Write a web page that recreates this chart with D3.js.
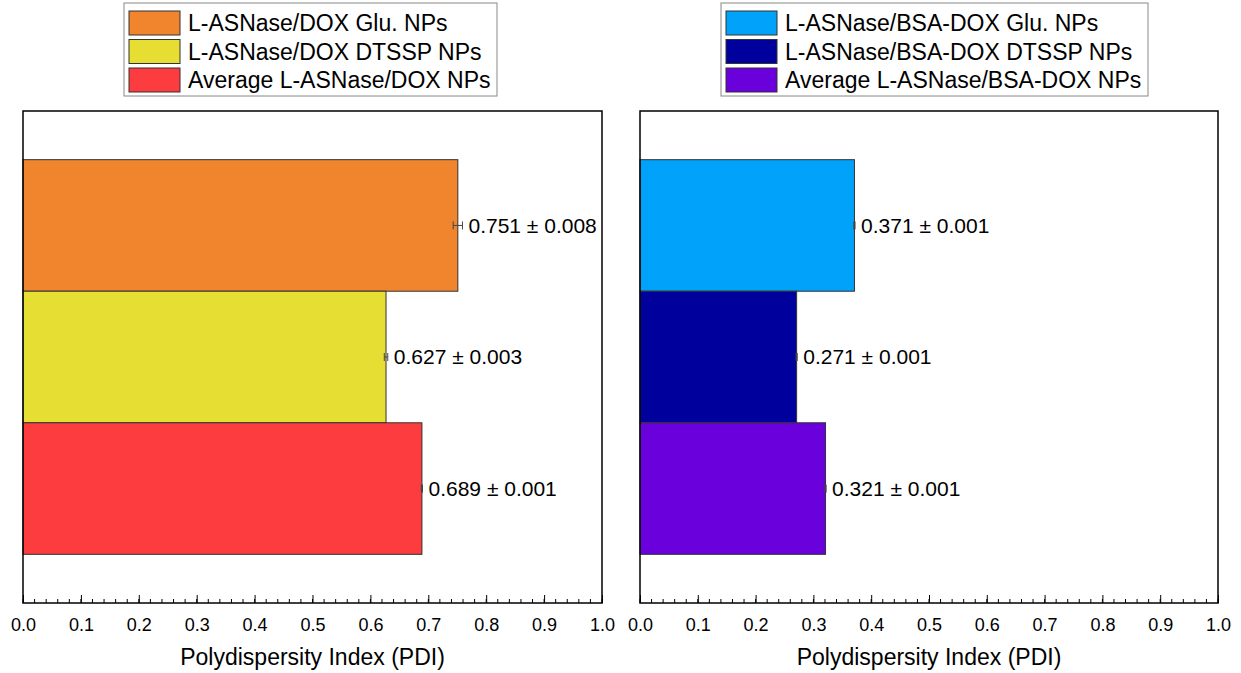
<!DOCTYPE html>
<html>
<head>
<meta charset="utf-8">
<script src="https://cdn.jsdelivr.net/npm/d3@7"></script>
<style>
  body { margin: 0; background: #fff; }
  svg { font-family: "Liberation Sans", Arial, sans-serif; }
</style>
</head>
<body>
<script>
// data
var namesLeft = ["L-ASNase/DOX Glu. NPs", "L-ASNase/DOX DTSSP NPs", "Average L-ASNase/DOX NPs"];
var pdiLeft = [0.751, 0.627, 0.689];
var errLeft = [0.008, 0.003, 0.001];
var colorsLeft = ["#F0852D", "#E6DE33", "#FC3C3E"];

var namesRight = ["L-ASNase/BSA-DOX Glu. NPs", "L-ASNase/BSA-DOX DTSSP NPs", "Average L-ASNase/BSA-DOX NPs"];
var pdiRight = [0.371, 0.271, 0.321];
var errRight = [0.001, 0.001, 0.001];
var colorsRight = ["#00A2FA", "#00009C", "#6A00DC"];

var X_DOMAIN = [0, 1.0];
var MAJOR_STEP = 0.1;
var MINOR_STEP = 0.02;
var AXIS_TITLE = "Polydispersity Index (PDI)";

var W = 1241, H = 673;

var svg = d3.select("body").append("svg")
    .attr("width", W)
    .attr("height", H);

function drawPanel(opts) {
    var g = svg.append("g");
    var x = d3.scaleLinear().domain(X_DOMAIN).range([opts.left, opts.right]);
    var y = d3.scaleBand().domain(d3.range(opts.names.length))
        .range([opts.top, opts.bottom])
        .paddingInner(0)
        .paddingOuter(0.37);

    var rows = opts.names.map(function(n, i) {
        return { name: n, v: opts.values[i], e: opts.errs[i], c: opts.colors[i], i: i };
    });

    // bars
    g.selectAll(".bar").data(rows).enter().append("rect")
        .attr("class", "bar")
        .attr("x", x(0))
        .attr("y", function(d) { return y(d.i); })
        .attr("width", function(d) { return x(d.v) - x(0); })
        .attr("height", y.bandwidth())
        .style("fill", function(d) { return d.c; })
        .style("stroke", "#333")
        .style("stroke-width", 1);

    // error bars
    var eb = g.selectAll(".err").data(rows).enter().append("g").attr("class", "err")
        .style("stroke", "#444").style("stroke-width", 1);
    eb.append("line")
        .attr("x1", function(d) { return x(d.v - d.e); })
        .attr("x2", function(d) { return x(d.v + d.e); })
        .attr("y1", function(d) { return y(d.i) + y.bandwidth() / 2; })
        .attr("y2", function(d) { return y(d.i) + y.bandwidth() / 2; });
    [-1, 1].forEach(function(s) {
        eb.append("line")
            .attr("x1", function(d) { return x(d.v + s * d.e); })
            .attr("x2", function(d) { return x(d.v + s * d.e); })
            .attr("y1", function(d) { return y(d.i) + y.bandwidth() / 2 - 4; })
            .attr("y2", function(d) { return y(d.i) + y.bandwidth() / 2 + 4; });
    });

    // value labels
    g.selectAll(".lbl").data(rows).enter().append("text")
        .attr("class", "lbl")
        .attr("x", function(d) { return x(d.v + d.e) + 6; })
        .attr("y", function(d) { return y(d.i) + y.bandwidth() / 2; })
        .attr("dy", "0.35em")
        .style("font-size", "21px")
        .style("fill", "#000")
        .text(function(d) { return d.v.toFixed(3) + " \u00B1 " + d.e.toFixed(3); });

    // bottom axis: major + minor ticks pointing inward
    var minorTicks = d3.range(X_DOMAIN[0], X_DOMAIN[1] + 1e-9, MINOR_STEP);
    g.selectAll(".minor").data(minorTicks).enter().append("line")
        .attr("x1", function(d) { return x(d); })
        .attr("x2", function(d) { return x(d); })
        .attr("y1", opts.bottom)
        .attr("y2", opts.bottom - 4)
        .style("stroke", "#000").style("stroke-width", 1);

    var axis = d3.axisBottom(x)
        .tickValues(d3.range(X_DOMAIN[0], X_DOMAIN[1] + 1e-9, MAJOR_STEP))
        .tickFormat(d3.format(".1f"))
        .tickSizeInner(-8)
        .tickSizeOuter(0)
        .tickPadding(15);
    var ax = g.append("g")
        .attr("transform", "translate(0," + opts.bottom + ")")
        .call(axis);
    ax.select(".domain").remove();
    ax.selectAll(".tick line").style("stroke", "#000").style("stroke-width", 1);
    ax.selectAll(".tick text")
        .style("font-size", "18px")
        .style("font-family", "Liberation Sans, Arial, sans-serif")
        .style("fill", "#000");

    // frame
    g.append("rect")
        .attr("x", opts.left)
        .attr("y", opts.top)
        .attr("width", opts.right - opts.left)
        .attr("height", opts.bottom - opts.top)
        .style("fill", "none")
        .style("stroke", "#000")
        .style("stroke-width", 1.5);

    // axis title
    g.append("text")
        .attr("x", (opts.left + opts.right) / 2)
        .attr("y", 665)
        .attr("text-anchor", "middle")
        .style("font-size", "23px")
        .text(AXIS_TITLE);

    // legend
    var leg = g.append("g");
    leg.append("rect")
        .attr("x", opts.legX)
        .attr("y", 3)
        .attr("width", opts.legW)
        .attr("height", 93)
        .style("fill", "#fff")
        .style("stroke", "#888")
        .style("stroke-width", 1);
    var item = leg.selectAll(".item").data(rows).enter().append("g")
        .attr("transform", function(d) { return "translate(" + (opts.legX + 5) + "," + (11 + d.i * 28.5) + ")"; });
    item.append("rect")
        .attr("width", 51)
        .attr("height", 24)
        .style("fill", function(d) { return d.c; })
        .style("stroke", "#333")
        .style("stroke-width", 1);
    item.append("text")
        .attr("x", 59)
        .attr("y", 12)
        .attr("dy", "0.35em")
        .style("font-size", "23px")
        .text(function(d) { return d.name; });
}

drawPanel({
    names: namesLeft, values: pdiLeft, errs: errLeft, colors: colorsLeft,
    left: 23, right: 602, top: 111, bottom: 603,
    legX: 124, legW: 373
});

drawPanel({
    names: namesRight, values: pdiRight, errs: errRight, colors: colorsRight,
    left: 640, right: 1218, top: 111, bottom: 603,
    legX: 721, legW: 427
});
</script>
</body>
</html>
